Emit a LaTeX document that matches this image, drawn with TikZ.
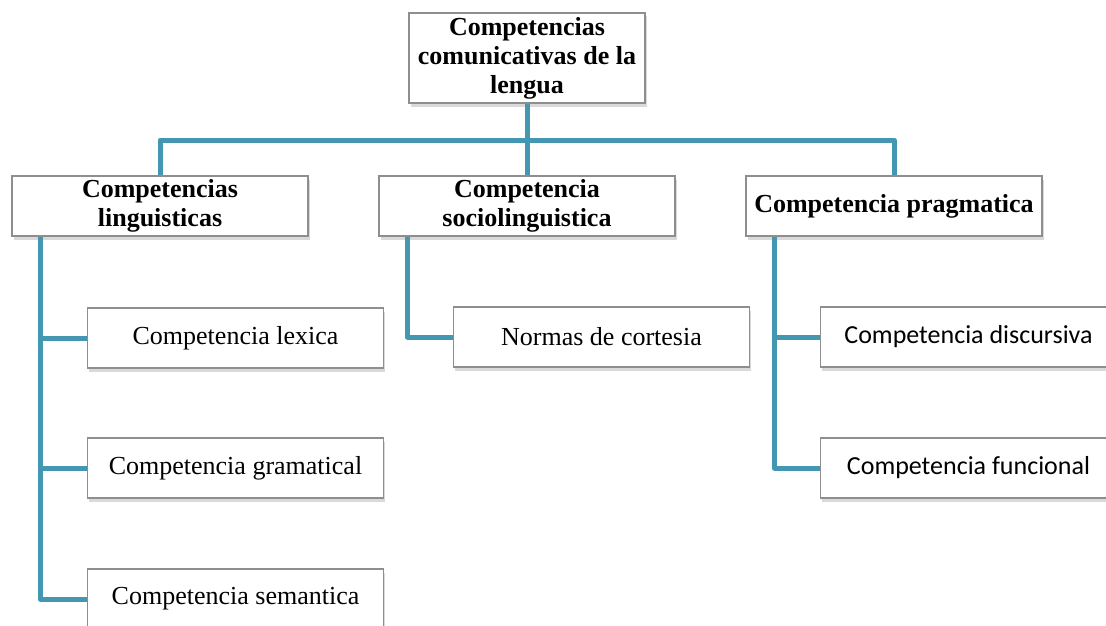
\documentclass[tikz,border=0pt]{standalone}
\usepackage{fontspec}
\setmainfont{Liberation Serif}
\newfontfamily\calib{Carlito}
\usetikzlibrary{shadows,calc}
\definecolor{conncol}{HTML}{4397B0}
\definecolor{boxline}{HTML}{8E8E8E}
\tikzset{
  box/.style={draw=boxline, line width=1.5pt, fill=white, rectangle,
    minimum width=296pt, minimum height=60pt, inner sep=2pt, align=center,
    drop shadow={opacity=0.3, shadow xshift=1.5pt, shadow yshift=-3.5pt},
    font=\fontsize{26}{29}\selectfont},
  head/.style={box, font=\fontsize{26}{29}\selectfont\bfseries},
  sbox/.style={box, font=\fontsize{26}{29}\selectfont\calib},
  conn/.style={draw=conncol, line width=5pt, line join=round}
}
\begin{document}
\begin{tikzpicture}[x=1pt,y=-1pt]
\useasboundingbox (0,0) rectangle (1106,626);
\clip (0,0) rectangle (1106,626);
% nodes
\node[head, minimum width=236pt, minimum height=90pt] (top) at (527,58) {Competencias\\comunicativas de la\\lengua};
\node[head] (l1) at (160,206) {Competencias\\linguisticas};
\node[head] (l2) at (527,206) {Competencia\\sociolinguistica};
\node[head] (l3) at (894,206) {Competencia pragmatica};
\node[box] (lex) at (235.5,338) {Competencia lexica};
\node[box] (gram) at (235.5,468) {Competencia gramatical};
\node[box] (sem) at (235.5,599) {Competencia semantica};
\node[box] (norm) at (601.5,337) {Normas de cortesia};
\node[sbox] (disc) at (968.5,337) {Competencia discursiva};
\node[sbox] (func) at (968.5,468) {Competencia funcional};
% connector anchors
\coordinate (bus) at (527,140);
\coordinate (s1) at ($(l1.south west)+(29,0)$);
\coordinate (s2) at ($(l2.south west)+(29,0)$);
\coordinate (s3) at ($(l3.south west)+(29,0)$);
% connectors
\draw[conn] (top.south) -- (l2.north);
\draw[conn] (l1.north) |- (bus) -| (l3.north);
\draw[conn] (s1) |- (lex.west);
\draw[conn] (s1) |- (gram.west);
\draw[conn] (s1) |- (sem.west);
\draw[conn] (s2) |- (norm.west);
\draw[conn] (s3) |- (disc.west);
\draw[conn] (s3) |- (func.west);
\end{tikzpicture}
\end{document}
